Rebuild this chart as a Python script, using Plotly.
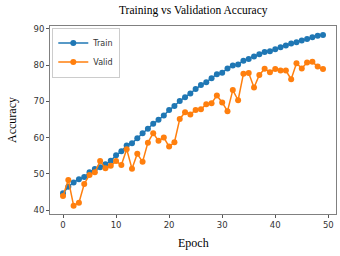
import plotly.graph_objects as go

epochs = list(range(50))
train_acc = [44.6, 46.4, 47.6, 48.5, 49.1, 50.4, 51.3, 51.8, 52.6, 53.6,
             55.1, 56.2, 57.8, 58.4, 59.8, 61.2, 62.4, 63.8, 64.9, 66.1,
             67.6, 68.7, 70.1, 71.1, 72.2, 73.4, 74.5, 75.3, 76.4, 77.5,
             77.9, 79.1, 79.9, 80.2, 81.2, 81.7, 82.4, 83.0, 83.6, 83.8,
             84.4, 84.9, 85.4, 86.0, 86.3, 86.8, 87.2, 87.7, 88.1, 88.3]
valid_acc = [43.9, 48.3, 41.2, 42.0, 47.2, 49.7, 50.4, 53.5, 51.5, 52.2,
             53.5, 52.4, 56.8, 51.4, 55.5, 53.3, 58.6, 61.2, 59.1, 60.0,
             57.5, 58.7, 65.1, 67.0, 66.4, 67.6, 67.8, 69.2, 69.5, 71.6,
             69.7, 67.3, 73.1, 70.3, 77.6, 77.8, 73.8, 77.3, 79.0, 78.0,
             78.9, 78.5, 78.5, 76.1, 80.5, 79.1, 80.7, 80.9, 79.6, 78.9]
x_ticks = [0, 10, 20, 30, 40, 50]
y_ticks = [40, 50, 60, 70, 80, 90]

fig = go.Figure()
fig.add_trace(go.Scatter(x=epochs, y=train_acc, name="Train", mode="lines+markers",
                         line=dict(color="#1f77b4", width=1.5),
                         marker=dict(color="#1f77b4", size=6)))
fig.add_trace(go.Scatter(x=epochs, y=valid_acc, name="Valid", mode="lines+markers",
                         line=dict(color="#ff7f0e", width=1.5),
                         marker=dict(color="#ff7f0e", size=6)))

axis_common = dict(showline=True, mirror=True, linecolor="#808080", linewidth=1,
                   showgrid=False, zeroline=False, ticks="outside", ticklen=3,
                   tickcolor="#555", automargin=False,
                   tickfont=dict(family="DejaVu Sans", size=8.5, color="#333"))

serif = dict(family="Liberation Serif", size=12, color="black")

fig.update_layout(
    width=340, height=256,
    margin=dict(l=50, r=4, t=26, b=42),
    paper_bgcolor="white", plot_bgcolor="white",
    xaxis=dict(range=[-2.45, 51.45], tickvals=x_ticks, **axis_common),
    yaxis=dict(range=[38.9, 90.8], tickvals=y_ticks, **axis_common),
    legend=dict(x=0.008, y=0.992, xanchor="left", yanchor="top",
                bgcolor="rgba(255,255,255,0.8)", bordercolor="#ccc", borderwidth=1,
                font=dict(family="DejaVu Sans", size=8, color="#333"),
                itemwidth=30, tracegroupgap=0),
    showlegend=True,
    annotations=[
        dict(text="Training vs Validation Accuracy", xref="paper", yref="paper",
             x=0.5, y=1, yshift=16, xanchor="center", yanchor="middle",
             showarrow=False, font=dict(family="Liberation Serif", size=11.5, color="black")),
        dict(text="Epoch", xref="paper", yref="paper", x=0.5, y=0, yshift=-29,
             xanchor="center", yanchor="middle", showarrow=False, font=serif),
        dict(text="Accuracy", xref="paper", yref="paper", x=0, y=0.5, xshift=-38,
             xanchor="center", yanchor="middle", textangle=-90, showarrow=False, font=serif),
    ],
)

fig.write_html("out.html", config={"displayModeBar": False},
               post_script="document.body.style.margin='0';document.body.style.overflow='hidden';")
